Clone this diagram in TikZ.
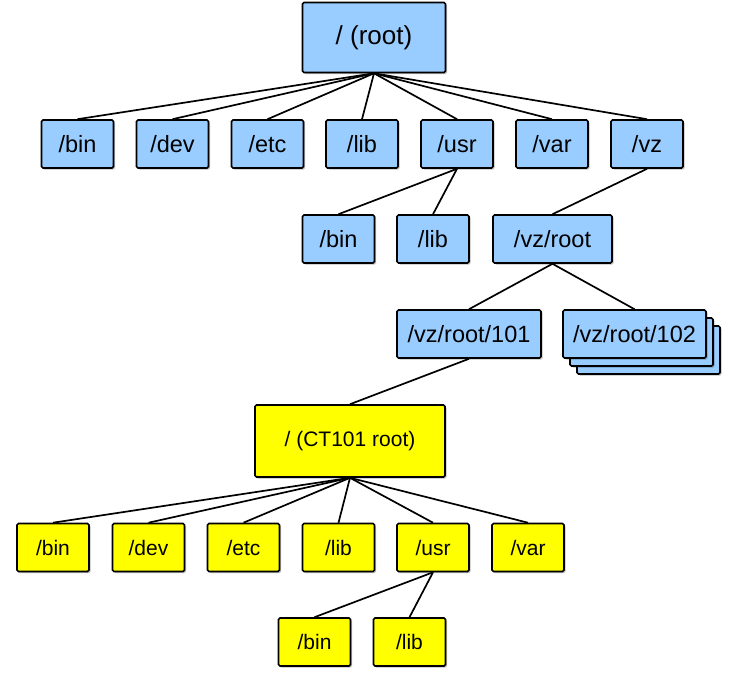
\documentclass[tikz,border=0pt]{standalone}
\usepackage{fontspec}
\setmainfont{Liberation Sans}
\usetikzlibrary{shadows}
\definecolor{dirblue}{RGB}{153,204,255}
\definecolor{diryel}{RGB}{255,255,0}
\tikzset{
  dirbox/.style={draw=black, line width=1.6pt, rounded corners=1.5pt, inner sep=0pt,
    minimum width=72pt, minimum height=48pt,
    drop shadow={shadow xshift=1.5pt, shadow yshift=-1.5pt, fill=black, opacity=0.25}},
  bluebox/.style={dirbox, fill=dirblue, font=\fontsize{23.5}{27}\selectfont},
  yelbox/.style={dirbox, fill=diryel, font=\fontsize{21}{25}\selectfont},
  edge/.style={draw=black, line width=1.7pt}
}
\begin{document}
\begin{tikzpicture}[x=1pt,y=-1pt]
\useasboundingbox (0,0) rectangle (743,683);
% top tree
\node[bluebox, minimum width=143pt, minimum height=70pt, font=\fontsize{26}{30}\selectfont] (root) at (374,37.5) {/ (root)};
\node[bluebox] (bin) at (77.5,144) {/bin};
\node[bluebox] (dev) at (172.5,144) {/dev};
\node[bluebox] (etc) at (267.5,144) {/etc};
\node[bluebox] (lib) at (362,144) {/lib};
\node[bluebox] (usr) at (457,144) {/usr};
\node[bluebox] (var) at (552,144) {/var};
\node[bluebox] (vz) at (647,144) {/vz};
\node[bluebox] (ubin) at (338.5,239) {/bin};
\node[bluebox] (ulib) at (433,239) {/lib};
\node[bluebox, minimum width=119pt] (vzroot) at (552.5,239) {/vz/root};
\node[bluebox, minimum width=144pt] (c101) at (469,334) {/vz/root/101};
\node[bluebox, minimum width=143pt] (c102b) at (648.5,350) {};
\node[bluebox, minimum width=143pt] (c102a) at (641.5,342) {};
\node[bluebox, minimum width=143pt] (c102) at (634.5,334) {/vz/root/102};
% container tree
\node[yelbox, minimum width=190pt, minimum height=72pt] (ct) at (350,441) {/ (CT101 root)};
\node[yelbox] (cbin) at (53,547.5) {/bin};
\node[yelbox] (cdev) at (148.5,547.5) {/dev};
\node[yelbox] (cetc) at (243.5,547.5) {/etc};
\node[yelbox] (clib) at (338.5,547.5) {/lib};
\node[yelbox] (cusr) at (433,547.5) {/usr};
\node[yelbox] (cvar) at (528,547.5) {/var};
\node[yelbox] (cubin) at (314.5,642) {/bin};
\node[yelbox] (culib) at (409.5,642) {/lib};
% edges
\foreach \c in {bin,dev,etc,lib,usr,var,vz} \draw[edge] (root.south) -- (\c.north);
\draw[edge] (usr.south) -- (ubin.north);
\draw[edge] (usr.south) -- (ulib.north);
\draw[edge] (vz.south) -- (vzroot.north);
\draw[edge] (vzroot.south) -- (c101.north);
\draw[edge] (vzroot.south) -- (c102.north);
\draw[edge] (c101.south) -- (ct.north);
\foreach \c in {cbin,cdev,cetc,clib,cusr,cvar} \draw[edge] (ct.south) -- (\c.north);
\draw[edge] (cusr.south) -- (cubin.north);
\draw[edge] (cusr.south) -- (culib.north);
\end{tikzpicture}
\end{document}
